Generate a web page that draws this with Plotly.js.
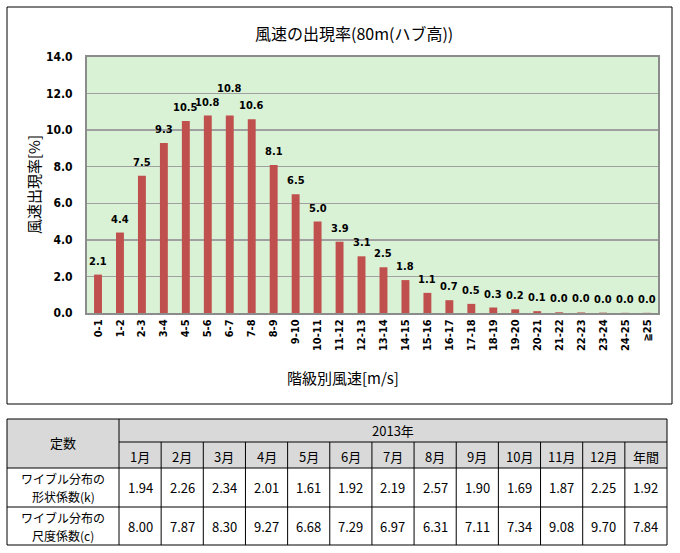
<!DOCTYPE html>
<html>
<head>
<meta charset="utf-8">
<script src="https://cdn.plot.ly/plotly-3.0.1.min.js"></script>
<style>html,body{margin:0;padding:0;background:#fff;}#chart{width:680px;height:553px;}</style>
</head>
<body>
<div id="chart"></div>
<script>
// ---- data ----
const chartTitle = '風速の出現率(80m(ハブ高))';
const xTitle = '階級別風速[m/s]';
const yTitle = '風速出現率[%]';
const categories = ['0-1','1-2','2-3','3-4','4-5','5-6','6-7','7-8','8-9','9-10','10-11','11-12','12-13','13-14','14-15','15-16','16-17','17-18','18-19','19-20','20-21','21-22','22-23','23-24','24-25','≧25'];
const occurrence = [2.1,4.4,7.5,9.3,10.5,10.8,10.8,10.6,8.1,6.5,5.0,3.9,3.1,2.5,1.8,1.1,0.7,0.5,0.3,0.2,0.1,0.04,0.03,0.02,0.01,0.01];
const yTicks = [0,2,4,6,8,10,12,14];

const tableHeader = '定数';
const yearLabel = '2013年';
const months = ['1月','2月','3月','4月','5月','6月','7月','8月','9月','10月','11月','12月','年間'];
const rowLabelLine1 = ['ワイブル分布の','ワイブル分布の'];
const rowLabelLine2 = ['形状係数(k)','尺度係数(c)'];
const shapeK = [1.94,2.26,2.34,2.01,1.61,1.92,2.19,2.57,1.90,1.69,1.87,2.25,1.92];
const scaleC = [8.00,7.87,8.30,9.27,6.68,7.29,6.97,6.31,7.11,7.34,9.08,9.70,7.84];

// ---- layout helpers ----
const W = 680, H = 553;
const px = x => x / W;
const py = y => 1 - y / H;
const jp = '"Noto Sans CJK JP", "Noto Sans", sans-serif';
const narrow = '"Liberation Sans Narrow", "DejaVu Sans Condensed", "Liberation Sans", sans-serif';

const shapes = [];
const annotations = [];

// chart outer border
shapes.push({type:'rect', xref:'paper', yref:'paper', x0:px(7), x1:px(672), y0:py(404), y1:py(7), line:{color:'#000', width:1}, layer:'below'});

// titles
annotations.push({xref:'paper', yref:'paper', x:px(354), y:py(33), text:chartTitle, showarrow:false, font:{family:jp, size:16, color:'#000'}, xanchor:'center', yanchor:'middle'});
annotations.push({xref:'paper', yref:'paper', x:px(343), y:py(377), text:xTitle, showarrow:false, font:{family:jp, size:15, color:'#000'}, xanchor:'center', yanchor:'middle'});
annotations.push({xref:'paper', yref:'paper', x:px(33), y:py(185), text:yTitle, textangle:-90, showarrow:false, font:{family:jp, size:15, color:'#000'}, xanchor:'center', yanchor:'middle'});

// data labels (placed on data coordinates)
const labelLift = {6: 14};
occurrence.forEach((v, i) => {
  annotations.push({xref:'x', yref:'y', x:categories[i], y:v, text:v.toFixed(1), showarrow:false,
    yanchor:'bottom', yshift:5 + (labelLift[i] || 0),
    font:{family:narrow, size:11, color:'#000', weight:'bold'}});
});

// ---- table ----
const tL = 7, tR = 667, c0R = 119;
const rowY = [419, 442, 468, 507, 545];
const nCol = months.length;
const colW = (tR - c0R) / nCol;
const colX = i => c0R + i * colW;
const line = {color:'#000', width:1};
const hdrFill = '#d9d9d9';
const cellFont = {family:jp, size:13, color:'#000'};

// header fills
shapes.push({type:'rect', xref:'paper', yref:'paper', x0:px(tL), x1:px(tR), y0:py(rowY[2]), y1:py(rowY[0]), fillcolor:hdrFill, line:{width:0}});
// outer border
shapes.push({type:'rect', xref:'paper', yref:'paper', x0:px(tL), x1:px(tR), y0:py(rowY[4]), y1:py(rowY[0]), line:line});
// horizontal lines
shapes.push({type:'line', xref:'paper', yref:'paper', x0:px(c0R), x1:px(tR), y0:py(rowY[1]), y1:py(rowY[1]), line:line});
[2,3].forEach(r => shapes.push({type:'line', xref:'paper', yref:'paper', x0:px(tL), x1:px(tR), y0:py(rowY[r]), y1:py(rowY[r]), line:line}));
// vertical lines
shapes.push({type:'line', xref:'paper', yref:'paper', x0:px(c0R), x1:px(c0R), y0:py(rowY[0]), y1:py(rowY[4]), line:line});
for (let i = 1; i < nCol; i++) {
  shapes.push({type:'line', xref:'paper', yref:'paper', x0:px(colX(i)), x1:px(colX(i)), y0:py(rowY[1]), y1:py(rowY[4]), line:line});
}
const cellText = (x, y, t, size) => annotations.push({xref:'paper', yref:'paper', x:px(x), y:py(y), text:t, showarrow:false, xanchor:'center', yanchor:'middle', borderpad:0, font:Object.assign({}, cellFont, size ? {size:size} : {})});
cellText((tL + c0R) / 2, (rowY[0] + rowY[2]) / 2 - 1, tableHeader);
cellText((c0R + tR) / 2, (rowY[0] + rowY[1]) / 2, yearLabel);
months.forEach((m, i) => cellText(colX(i) + colW / 2, (rowY[1] + rowY[2]) / 2 + 1, m));
rowLabelLine1.forEach((t, r) => {
  const mid = (rowY[2 + r] + rowY[3 + r]) / 2;
  cellText((tL + c0R) / 2, mid - 9, t, 12);
  cellText((tL + c0R) / 2, mid + 9, rowLabelLine2[r], 12);
});
shapeK.forEach((v, i) => cellText(colX(i) + colW / 2, (rowY[2] + rowY[3]) / 2, v.toFixed(2)));
scaleC.forEach((v, i) => cellText(colX(i) + colW / 2, (rowY[3] + rowY[4]) / 2, v.toFixed(2)));

// ---- figure ----
const data = [{
  type:'bar', x:categories, y:occurrence,
  marker:{color:'#c0504d', line:{width:0}},
  hoverinfo:'x+y'
}];

const layout = {
  width:W, height:H,
  margin:{l:0, r:0, t:0, b:0},
  paper_bgcolor:'#ffffff',
  plot_bgcolor:'#d9f1d4',
  showlegend:false,
  bargap:0.64,
  xaxis:{
    domain:[px(87), px(658)],
    type:'category',
    tickangle:-90,
    tickfont:{family:narrow, size:11, color:'#000', weight:'bold'},
    showline:true, linecolor:'#8c8c8c', linewidth:2, mirror:true,
    ticks:'', showgrid:false, fixedrange:true
  },
  yaxis:{
    domain:[py(313), py(57)],
    range:[0, 14],
    tickvals:yTicks,
    tickformat:'.1f',
    tickfont:{family:narrow, size:12, color:'#000', weight:'bold'},
    showline:true, linecolor:'#8c8c8c', linewidth:2, mirror:true,
    gridcolor:'#a0a0a0', gridwidth:1.5,
    zeroline:false, ticks:'', ticklabelstandoff:10, fixedrange:true
  },
  shapes:shapes,
  annotations:annotations
};

Plotly.newPlot('chart', data, layout, {displayModeBar:false, staticPlot:true});
</script>
</body>
</html>
